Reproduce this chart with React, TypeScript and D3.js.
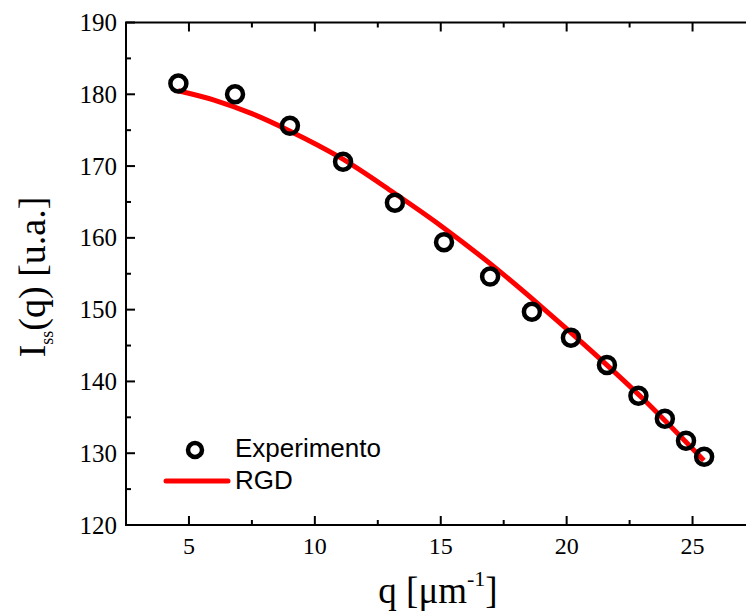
import React from "react";
import * as d3 from "d3";

const expQ = [4.58, 6.83, 9.01, 11.12, 13.18, 15.13, 16.96, 18.62, 20.17, 21.6, 22.85, 23.9, 24.74, 25.46];
const expI = [181.5, 180.0, 175.6, 170.6, 164.9, 159.4, 154.6, 149.7, 146.1, 142.3, 138.0, 134.8, 131.75, 129.5];

const fitQ = [4.57, 6.0, 7.5, 9.0, 11.0, 13.0, 15.0, 17.0, 19.0, 21.0, 23.0, 25.45];
const fitI = [180.5, 179.2, 177.3, 174.9, 171.2, 166.6, 161.7, 156.3, 150.4, 144.2, 137.7, 129.0];

const xMajor = [5, 10, 15, 20, 25];
const xMinor = [2.5, 7.5, 12.5, 17.5, 22.5, 27.5];
const yMajor = [120, 130, 140, 150, 160, 170, 180, 190];
const yMinor = [125, 135, 145, 155, 165, 175, 185];

const W = 746;
const H = 611;
const L = 126;
const R = 755.5;
const T = 22.5;
const B = 525;

export default function App() {
  const x = d3.scaleLinear().domain([2.5, 27.5]).range([L, R]);
  const y = d3.scaleLinear().domain([120, 190]).range([B, T]);
  const line = d3
    .line<number>()
    .x((_, i) => x(fitQ[i]))
    .y((d) => y(d))
    .curve(d3.curveMonotoneX);

  const serif = "'Liberation Serif', 'Times New Roman', serif";
  const sans = "'Liberation Sans', Arial, sans-serif";
  const ax = { stroke: "#000", strokeWidth: 2 };

  return (
    <svg
      width={W}
      height={H}
      style={{ position: "absolute", left: 0, top: 0, display: "block", background: "#fff" }}
    >
      <rect x={0} y={0} width={W} height={H} fill="#fff" />
      {/* frame */}
      <line x1={L} x2={L} y1={T} y2={B} {...ax} />
      <line x1={L - 1} x2={R} y1={B} y2={B} {...ax} />
      <line x1={L - 1} x2={R} y1={T} y2={T} {...ax} />
      <line x1={R} x2={R} y1={T} y2={B} {...ax} />

      {/* x ticks */}
      {xMajor.map((v) => (
        <g key={"xM" + v}>
          <line x1={x(v)} x2={x(v)} y1={B} y2={B - 9} {...ax} />
          <line x1={x(v)} x2={x(v)} y1={T} y2={T + 9} {...ax} />
          <text x={x(v)} y={554} fontFamily={serif} fontSize={24} textAnchor="middle" fill="#000">
            {v}
          </text>
        </g>
      ))}
      {xMinor.map((v) => (
        <g key={"xm" + v}>
          <line x1={x(v)} x2={x(v)} y1={B} y2={B - 5} {...ax} />
          <line x1={x(v)} x2={x(v)} y1={T} y2={T + 5} {...ax} />
        </g>
      ))}
      {/* y ticks */}
      {yMajor.map((v) => (
        <g key={"yM" + v}>
          <line x1={L} x2={L + 9} y1={y(v)} y2={y(v)} {...ax} />
          <line x1={R} x2={R - 9} y1={y(v)} y2={y(v)} {...ax} />
          <text x={117} y={y(v) + 8.5} fontFamily={serif} fontSize={25} textAnchor="end" fill="#000">
            {v}
          </text>
        </g>
      ))}
      {yMinor.map((v) => (
        <g key={"ym" + v}>
          <line x1={L} x2={L + 5} y1={y(v)} y2={y(v)} {...ax} />
          <line x1={R} x2={R - 5} y1={y(v)} y2={y(v)} {...ax} />
        </g>
      ))}

      {/* fit line */}
      <path d={line(fitI) || ""} fill="none" stroke="#ff0000" strokeWidth={5} />

      {/* experimental points */}
      {expQ.map((q, i) => (
        <circle key={"p" + i} cx={x(q)} cy={y(expI[i])} r={8} fill="none" stroke="#000" strokeWidth={4.5} />
      ))}

      {/* legend */}
      <circle cx={195} cy={450} r={7} fill="none" stroke="#000" strokeWidth={4.5} />
      <text x={235} y={457} fontFamily={sans} fontSize={26} fill="#000">
        Experimento
      </text>
      <line x1={166} x2={228} y1={481} y2={481} stroke="#ff0000" strokeWidth={5} strokeLinecap="round" />
      <text x={235} y={489} fontFamily={sans} fontSize={26} fill="#000">
        RGD
      </text>

      {/* axis titles */}
      <text x={438} y={603} fontFamily={serif} fontSize={37} textAnchor="middle" fill="#000">
        q{"\u00a0"}[μm
        <tspan fontSize={22} dy={-17}>
          -1
        </tspan>
        <tspan dy={17}>]</tspan>
      </text>
      <text
        transform={`translate(45, 277) rotate(-90)`}
        fontFamily={serif}
        fontSize={38}
        textAnchor="middle"
        fill="#000"
      >
        I
        <tspan fontSize={18} dy={8}>
          ss
        </tspan>
        <tspan dy={-8}>(q){"\u00a0"}[u.a.]</tspan>
      </text>
    </svg>
  );
}
